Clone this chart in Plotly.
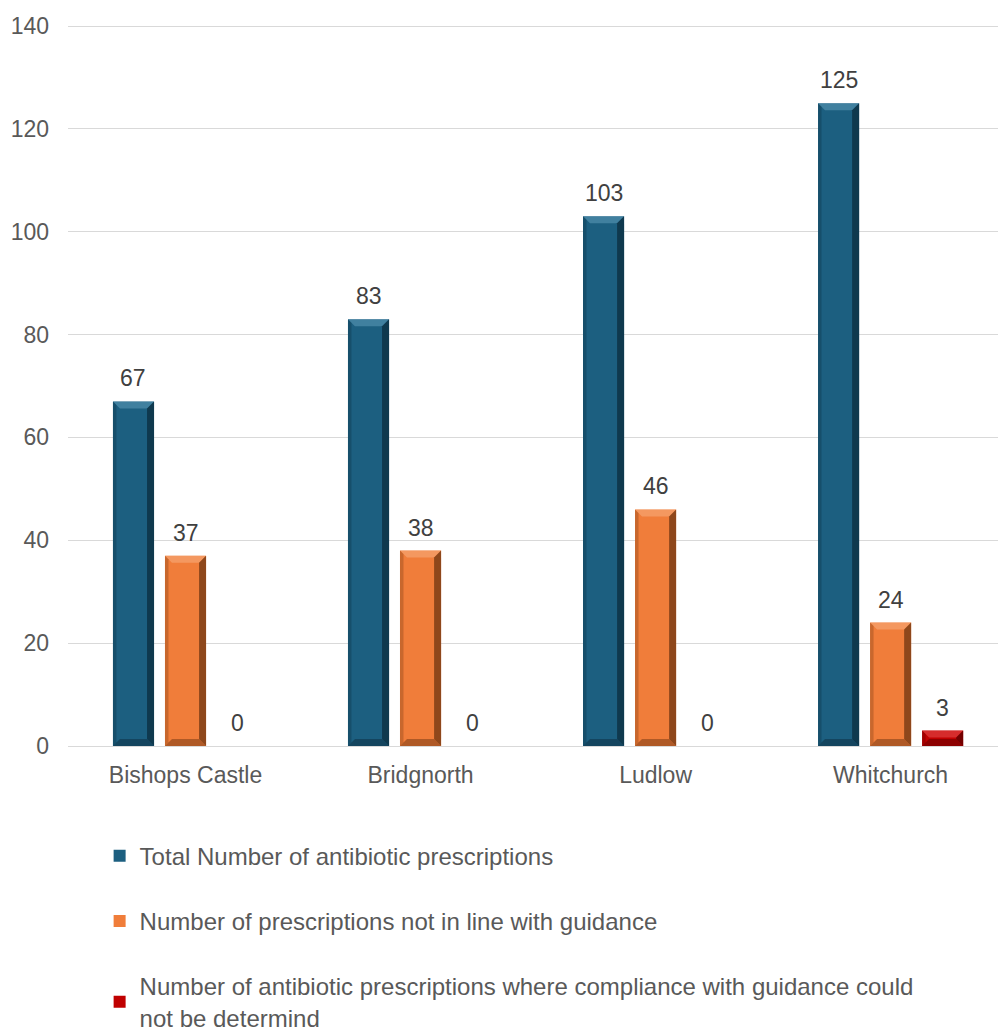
import plotly.graph_objects as go

sites = ["Bishops Castle", "Bridgnorth", "Ludlow", "Whitchurch"]
total_rx = [67, 83, 103, 125]
not_in_line = [37, 38, 46, 24]
undetermined = [0, 0, 0, 3]

series = [
    ("Total Number of antibiotic prescriptions", total_rx, "#1C5F80", "#0B2C3D", "#5E9BB8"),
    ("Number of prescriptions not in line with guidance", not_in_line, "#F07D3A", "#6E3512", "#F8AE80"),
    ("Number of antibiotic prescriptions where compliance with guidance could<br>not be determind",
     undetermined, "#C00000", "#5A0000", "#E85050"),
]

FONT = "Liberation Sans, Arial, sans-serif"
xpos = list(range(len(sites)))

# axis geometry (plot area 930 px wide, x range chosen so category pitch is 235 px)
X_RANGE = [-0.5, 3.457]
Y_RANGE = [0, 140.78]
PLOT_W, PLOT_H = 930, 724
px_x = (X_RANGE[1] - X_RANGE[0]) / PLOT_W   # data units per pixel, x
px_y = (Y_RANGE[1] - Y_RANGE[0]) / PLOT_H   # data units per pixel, y
BARGAP, GROUPGAP = 0.336, 0.21
slot = (1 - BARGAP) / len(series)
bar_w = slot * (1 - GROUPGAP)

fig = go.Figure()
shapes = []
annotations = []
for k, (name, vals, col, dark, light) in enumerate(series):
    fig.add_trace(go.Bar(
        x=xpos, y=vals, name=name, legendgroup=f"g{k}",
        marker=dict(color=col, line=dict(width=0)),
    ))
    off = (k - (len(series) - 1) / 2) * slot
    for i, v in enumerate(vals):
        xc = xpos[i] + off
        annotations.append(dict(
            x=xc, y=v, xref="x", yref="y", text=str(v), showarrow=False,
            yanchor="bottom", yshift=8,
            font=dict(size=23, color="#404040", family=FONT),
        ))
        if v <= 0:
            continue
        xl, xr = xc - bar_w / 2, xc + bar_w / 2
        bx = 7 * px_x
        by = min(7 * px_y, v / 2)
        # bevelled edges: light top, dark bottom and right, thin dark left
        shapes += [
            dict(type="path", xref="x", yref="y", layer="above", line=dict(width=0),
                 fillcolor=light, opacity=0.55,
                 path=f"M{xl},{v} L{xr},{v} L{xr-bx},{v-by} L{xl+bx},{v-by} Z"),
            dict(type="path", xref="x", yref="y", layer="above", line=dict(width=0),
                 fillcolor=dark, opacity=0.75,
                 path=f"M{xr},{v} L{xr},0 L{xr-bx},{by} L{xr-bx},{v-by} Z"),
            dict(type="path", xref="x", yref="y", layer="above", line=dict(width=0),
                 fillcolor=dark, opacity=0.5,
                 path=f"M{xl},0 L{xr},0 L{xr-bx},{by} L{xl+bx},{by} Z"),
            dict(type="path", xref="x", yref="y", layer="above", line=dict(width=0),
                 fillcolor=dark, opacity=0.3,
                 path=f"M{xl},0 L{xl},{v} L{xl+bx*0.5},{v-by*0.5} L{xl+bx*0.5},{by*0.5} Z"),
        ]

fig.update_layout(
    width=998, height=1032,
    margin=dict(l=68, r=0, t=22, b=286, autoexpand=False),
    paper_bgcolor="white", plot_bgcolor="white",
    barmode="group", bargap=BARGAP, bargroupgap=GROUPGAP,
    font=dict(family=FONT, color="#595959", size=23),
    showlegend=True,
    legend=dict(
        x=0.034, y=-0.121, xanchor="left", yanchor="top",
        orientation="v", traceorder="grouped", tracegroupgap=31,
        font=dict(size=24, color="#595959", family=FONT),
        itemwidth=30,
    ),
    shapes=shapes,
    annotations=annotations,
)
fig.update_xaxes(
    tickmode="array", tickvals=xpos, ticktext=sites,
    range=X_RANGE, showgrid=False, zeroline=False,
    showline=False, ticks="", tickfont=dict(size=23, color="#595959"),
    ticklabelstandoff=13,
)
fig.update_yaxes(
    range=Y_RANGE, dtick=20, showgrid=True, gridcolor="#D9D9D9", gridwidth=1.3,
    zeroline=True, zerolinecolor="#D9D9D9", zerolinewidth=1.3,
    showline=False, ticks="", ticklabelstandoff=18,
    tickfont=dict(size=23, color="#595959"),
)

fig.write_html("out.html")
